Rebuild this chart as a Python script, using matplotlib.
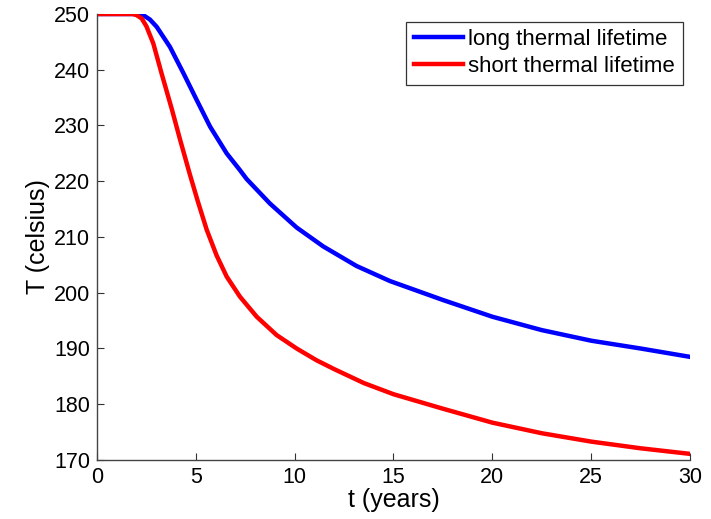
import matplotlib
matplotlib.use("Agg")
import matplotlib.pyplot as plt

# Data
t_long = [0, 1, 2.0, 2.34, 2.68, 3.02, 3.69, 4.37, 5.04, 5.72, 6.56, 7.23, 7.57, 8.75, 10.1,
          11.45, 13.13, 14.82, 17.5, 20, 22.5, 25, 27.5, 30]
T_long = [250, 250, 250, 249.8, 249.0, 247.7, 244.1, 239.4, 234.6, 229.8, 225.0, 222.0, 220.4, 216.0, 211.7,
          208.3, 204.8, 202.1, 198.7, 195.7, 193.3, 191.4, 190.0, 188.5]
t_short = [0, 1, 1.8, 2.0, 2.26, 2.5, 2.85, 3.27, 3.78, 4.2, 4.7, 5.1, 5.55, 6.05, 6.56, 7.23, 8.08, 9.09,
           10.1, 11.1, 12.0, 13.5, 15, 17.5, 20, 22.5, 25, 27.5, 30]
T_short = [250, 250, 250, 249.8, 249.2, 247.8, 244.7, 239.3, 233.0, 227.5, 221.2, 216.4, 211.3, 206.7,
           202.9, 199.3, 195.7, 192.4, 190.0, 187.9, 186.3, 183.8, 181.8, 179.2, 176.7, 174.8, 173.3, 172.1, 171.1]
labels = ["long thermal lifetime", "short thermal lifetime"]
xticks = [0, 5, 10, 15, 20, 25, 30]
yticks = [170, 180, 190, 200, 210, 220, 230, 240, 250]

plt.rcParams['font.family'] = ['Liberation Sans', 'DejaVu Sans']

fig = plt.figure(figsize=(7.11, 5.19), dpi=100)
ax = fig.add_axes([97/711, 1 - 460/519, (690 - 97)/711, (460 - 14)/519])

ax.plot(t_long, T_long, color='#0000ff', lw=3.2, label=labels[0])
ax.plot(t_short, T_short, color='#ff0000', lw=3.2, label=labels[1])

ax.set_xlim(0, 30)
ax.set_ylim(170, 250)
ax.set_xticks(xticks)
ax.set_yticks(yticks)
ax.tick_params(direction='in', length=5, width=0.8, colors='#333333', labelcolor='black', labelsize=15.5)
ax.tick_params(axis='x', pad=5)
ax.tick_params(axis='y', pad=5)
for s in ['top', 'right']:
    ax.spines[s].set_visible(False)
for s in ['left', 'bottom']:
    ax.spines[s].set_color('#444444')
    ax.spines[s].set_linewidth(1.0)

ax.set_xlabel('t (years)', fontsize=18, labelpad=0)
ax.set_ylabel('T (celsius)', fontsize=18, labelpad=3)

leg = ax.legend(loc='upper right', bbox_to_anchor=(683/711, 1 - 21.5/519),
                bbox_transform=fig.transFigure, fontsize=16, frameon=True,
                fancybox=False, edgecolor='#333333', framealpha=1,
                handlelength=2.2, handletextpad=0.25, borderpad=0.35,
                labelspacing=0.25, borderaxespad=0)
leg.get_frame().set_linewidth(0.9)

fig.savefig('out.png', dpi=100)
